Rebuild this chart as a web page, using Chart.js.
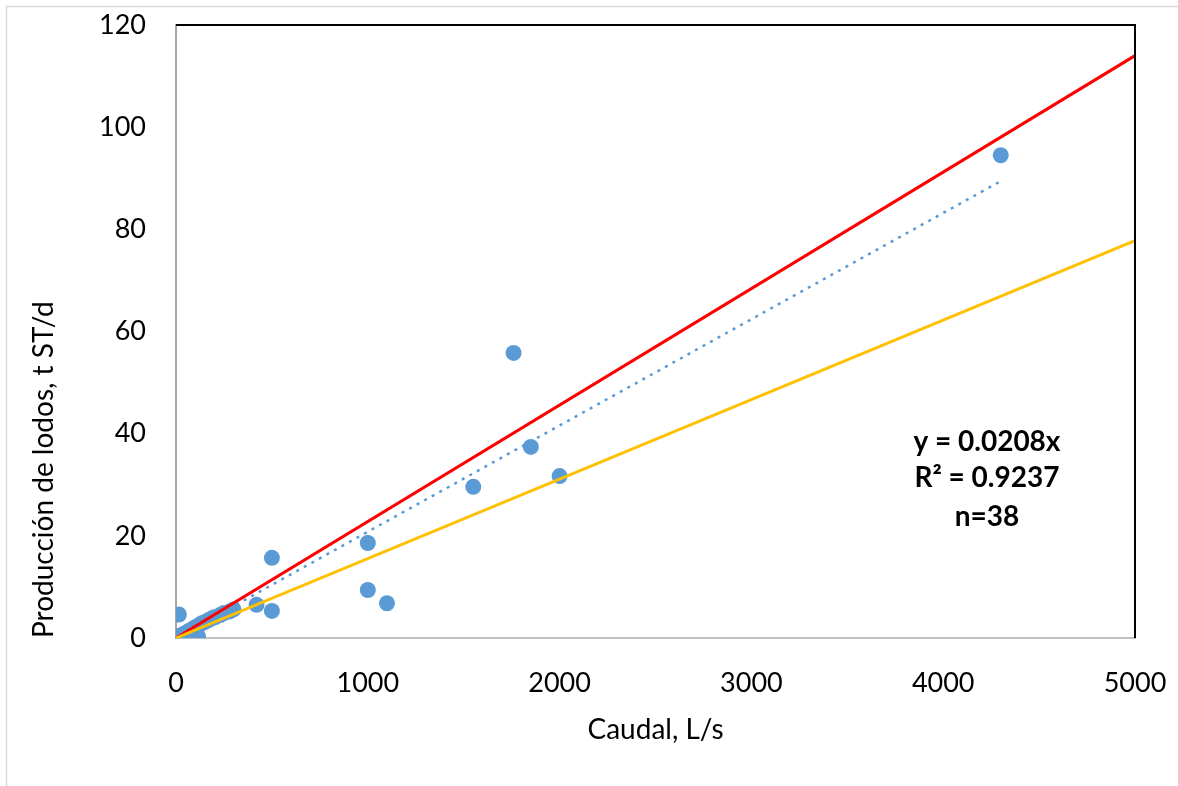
<!DOCTYPE html>
<html>
<head>
<meta charset="utf-8">
<script src="https://cdn.jsdelivr.net/npm/chart.js@4/dist/chart.umd.min.js"></script>
<style>
  html, body { margin: 0; padding: 0; background: #fff; }
  canvas { display: block; }
</style>
</head>
<body>
<canvas id="c" width="1178" height="786"></canvas>
<script>
// ---- data ----
const caudal = [4300, 1760, 1850, 2000, 1550, 1000, 500, 1000, 1100, 420, 500, 15,
  2, 5, 8, 10, 15, 20, 25, 30, 40, 50, 60, 70, 80, 90, 100, 115, 120, 135, 150, 170, 190, 205, 230, 250, 280, 300];
const lodos = [94.5, 55.8, 37.4, 31.7, 29.6, 18.6, 15.7, 9.4, 6.8, 6.5, 5.3, 4.6,
  0.05, 0.1, 0.15, 0.2, 0.3, 0.4, 0.5, 0.3, 0.8, 0.2, 1.2, 1.4, 1.6, 1.8, 2.1, 0.3, 2.5, 2.9, 3.1, 3.5, 3.9, 4.1, 4.5, 4.9, 5.2, 5.6];
const redLineX = [0, 5000];
const redLineY = [0, 114.0];
const yellowLineX = [0, 5000];
const yellowLineY = [0, 77.8];
const trendX = [0, 4300];
const trendY = [0, 89.44];
const annotationLines = ['y = 0.0208x', 'R\u00B2 = 0.9237', 'n=38'];
const xTicksMax = 5000, xStep = 1000;
const yTicksMax = 120, yStep = 20;

const pts = (xs, ys) => xs.map((x, i) => ({ x: x, y: ys[i] }));

const frameAndText = {
  id: 'frameAndText',
  beforeDraw(chart) {
    const ctx = chart.ctx;
    ctx.save();
    ctx.fillStyle = '#fff';
    ctx.fillRect(0, 0, chart.width, chart.height);
    ctx.strokeStyle = '#d9d9d9';
    ctx.lineWidth = 1.5;
    ctx.beginPath();
    ctx.moveTo(6.5, chart.height);
    ctx.lineTo(6.5, 6.5);
    ctx.lineTo(chart.width, 6.5);
    ctx.stroke();
    ctx.restore();
  },
  afterDraw(chart) {
    const ctx = chart.ctx;
    const a = chart.chartArea;
    ctx.save();
    ctx.strokeStyle = '#000';
    ctx.lineWidth = 2;
    ctx.beginPath();
    ctx.moveTo(a.left, a.top);
    ctx.lineTo(a.right, a.top);
    ctx.lineTo(a.right, a.bottom);
    ctx.stroke();
    // annotation
    const xs = chart.scales.x, ys = chart.scales.y;
    const cx = xs.getPixelForValue(4228);
    const rows = [38.4, 31.3, 23.7];
    ctx.fillStyle = '#000';
    ctx.font = 'bold 28px Lato';
    ctx.textAlign = 'center';
    ctx.textBaseline = 'middle';
    annotationLines.forEach((t, i) => ctx.fillText(t, cx, ys.getPixelForValue(rows[i])));
    ctx.restore();
  }
};

function zeroPad(s) { s.paddingTop = 0; s.paddingBottom = 0; s.paddingLeft = 0; s.paddingRight = 0; }

new Chart(document.getElementById('c'), {
  type: 'scatter',
  data: {
    datasets: [
      { type: 'line', data: pts(yellowLineX, yellowLineY), borderColor: '#FFC000', borderWidth: 3, pointRadius: 0, order: 0 },
      { type: 'line', data: pts(redLineX, redLineY), borderColor: '#FF0000', borderWidth: 3, pointRadius: 0, order: 1 },
      { type: 'line', data: pts(trendX, trendY), borderColor: '#5B9BD5', borderWidth: 2.5, borderDash: [3, 5.6], pointRadius: 0, order: 2 },
      { data: pts(caudal, lodos), backgroundColor: '#5B9BD5', borderColor: '#5B9BD5', pointRadius: 8, borderWidth: 0, order: 10 }
    ]
  },
  options: {
    responsive: false,
    animation: false,
    layout: { padding: { left: 0, top: 25, right: 43, bottom: 0 } },
    plugins: { legend: { display: false }, tooltip: { enabled: false } },
    scales: {
      x: {
        type: 'linear', min: 0, max: xTicksMax,
        ticks: { stepSize: xStep, padding: 29, color: '#000', font: { family: 'Lato', size: 27 }, callback: v => String(v) },
        grid: { display: false, drawTicks: false },
        border: { display: true, color: '#bfbfbf', width: 2 },
        title: { display: true, text: 'Caudal, L/s', color: '#000', font: { family: 'Lato', size: 28 }, padding: { top: 0, bottom: 39 } },
        afterFit(s) { s.height = 786 - 638; zeroPad(s); }
      },
      y: {
        type: 'linear', min: 0, max: yTicksMax,
        ticks: { stepSize: yStep, padding: 30, color: '#000', font: { family: 'Lato', size: 27 }, callback: v => String(v) },
        grid: { display: false, drawTicks: false },
        border: { display: true, color: '#a6a6a6', width: 2 },
        title: { display: true, align: 'start', text: 'Producción de lodos, t ST/d', color: '#000', font: { family: 'Lato', size: 28 }, padding: { top: 27, bottom: 0 } },
        afterFit(s) { s.width = 176; zeroPad(s); }
      }
    }
  },
  plugins: [frameAndText]
});
</script>
</body>
</html>
